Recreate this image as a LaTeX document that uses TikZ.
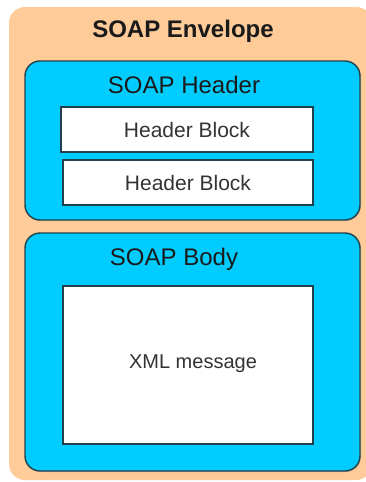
\documentclass[tikz,border=0pt]{standalone}
\usepackage{fontspec}
\setmainfont{Liberation Sans}
\usetikzlibrary{shadows}
\definecolor{peach}{HTML}{FFCC99}
\definecolor{soapblue}{HTML}{00CCFF}
\definecolor{edge}{HTML}{23414C}
\definecolor{ink}{HTML}{1A1A1A}
\definecolor{graytext}{HTML}{333333}
\tikzset{
  envelope/.style={fill=peach, rounded corners=16pt},
  part/.style={fill=soapblue, draw=edge, line width=1.4pt, rounded corners=15pt,
    drop shadow={shadow xshift=1pt, shadow yshift=-1pt, opacity=0.35}},
  block/.style={fill=white, draw=edge, line width=1.3pt},
  title/.style={font=\fontsize{24}{28}\selectfont, text=ink, inner sep=0pt},
  blocktext/.style={font=\fontsize{21}{25}\selectfont, text=graytext, inner sep=0pt},
}
\begin{document}
\begin{tikzpicture}[x=1pt, y=-1pt]
  \useasboundingbox (0,0) rectangle (365,482);
  \fill[white] (0,0) rectangle (365,482);
  % outer envelope
  \path[envelope] (9,7) rectangle (372,480);
  \node[title, font=\fontsize{24}{28}\selectfont\bfseries] (envtitle) at (183,31) {SOAP Envelope};
  % header
  \path[part] (25,61) rectangle (360,220);
  \node[title] (hdrtitle) at (184,85) {SOAP Header};
  \path[block] (61,107) rectangle (313,152);
  \node[blocktext] (hb1) at (187,130) {Header Block};
  \path[block] (63,160) rectangle (313,205);
  \node[blocktext] (hb2) at (188,183) {Header Block};
  % body
  \path[part] (25,233) rectangle (360,471);
  \node[title] (bodytitle) at (174,259) {SOAP Body};
  \path[block] (63,286) rectangle (313,444);
  \node[blocktext, font=\fontsize{20}{24}\selectfont] (xml) at (193,364) {XML message};
\end{tikzpicture}
\end{document}
